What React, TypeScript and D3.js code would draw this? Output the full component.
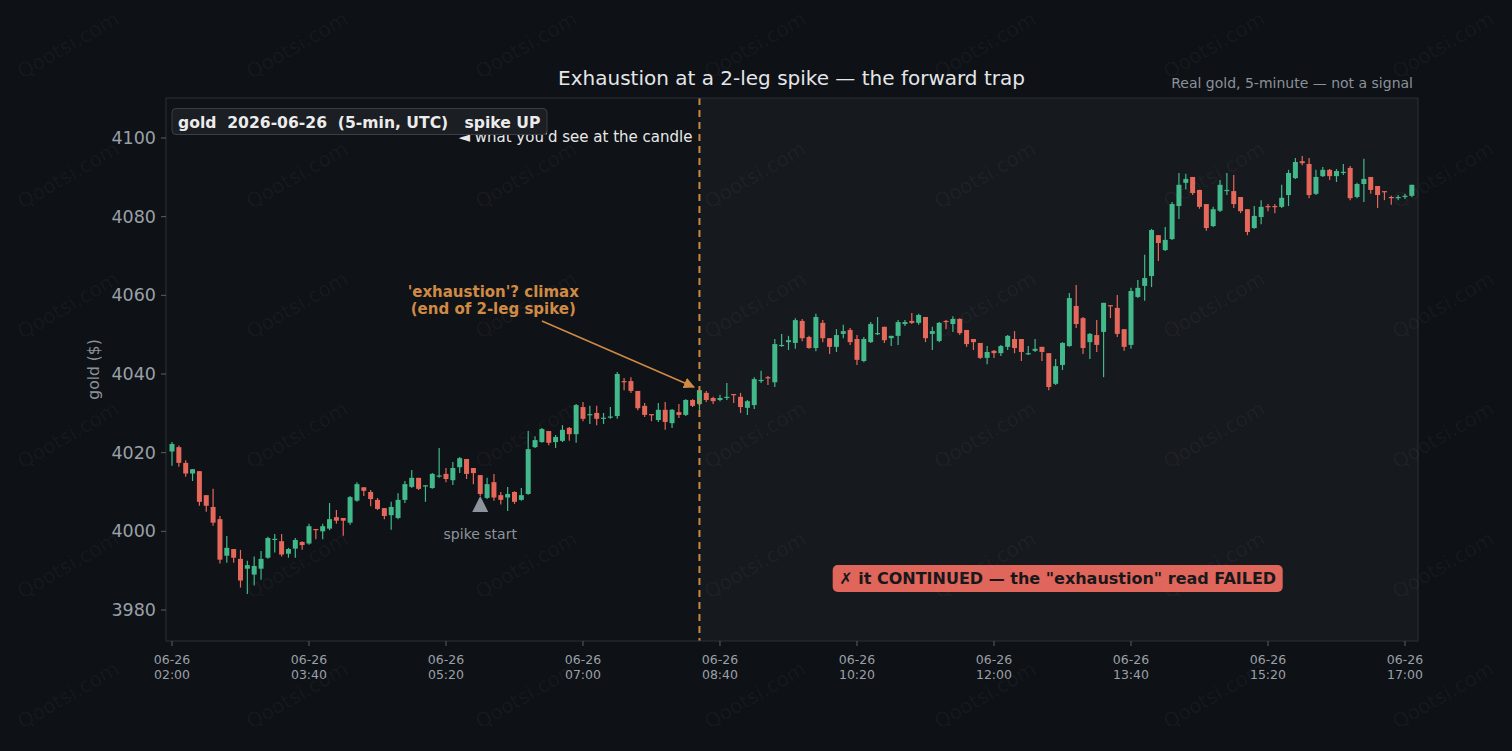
import React from 'react';
import * as d3 from 'd3';

// ---- data (5-minute gold candles, 2026-06-26 from 02:00 UTC) ----
const START_UTC = Date.UTC(2026, 5, 26, 2, 0, 0);
const STEP_MS = 5 * 60 * 1000;

const opens = [
  4020.3, 4021.4, 4017.4, 4014.7, 4015.3, 4009.2, 4006.2, 4003.1, 3993.8, 3995.5,
  3993.0, 3990.5, 3989.0, 3990.5, 3993.3, 3997.8, 3997.5, 3994.3, 3995.6, 3997.3,
  3996.9, 4000.6, 4000.0, 4000.7, 4003.6, 4003.4, 4002.2, 4007.8, 4011.2, 4010.0,
  4008.0, 4005.9, 4004.1, 4003.4, 4008.0, 4011.3, 4013.6, 4011.5, 4011.0, 4014.0,
  4014.6, 4013.0, 4016.3, 4018.4, 4016.1, 4014.3, 4008.5, 4012.5, 4009.2, 4008.6,
  4010.0, 4008.0, 4009.5, 4021.4, 4022.7, 4025.5, 4022.7, 4023.0, 4026.3, 4024.7,
  4031.6, 4029.6, 4030.1, 4028.6, 4029.0, 4029.3, 4038.2, 4038.2, 4035.7, 4031.9,
  4029.8, 4028.3, 4030.9, 4027.5, 4030.3, 4029.6, 4033.4, 4032.4, 4035.2, 4033.9,
  4033.4, 4034.0, 4034.9, 4034.2, 4031.4, 4032.1, 4038.2, 4039.2, 4037.9, 4047.1,
  4048.1, 4047.9, 4053.5, 4049.4, 4046.6, 4053.0, 4049.1, 4046.9, 4050.2, 4051.2,
  4048.9, 4043.3, 4048.1, 4050.2, 4052.0, 4049.1, 4049.7, 4052.7, 4053.5, 4053.0,
  4054.5, 4050.2, 4048.4, 4053.5, 4052.7, 4054.0, 4051.2, 4048.9, 4047.9, 4044.1,
  4045.9, 4045.3, 4046.9, 4048.9, 4048.9, 4045.1, 4045.9, 4046.9, 4045.3, 4037.5,
  4042.3, 4047.1, 4057.3, 4054.2, 4048.1, 4049.9, 4050.7, 4057.5, 4056.8, 4051.4,
  4047.4, 4059.6, 4062.4, 4064.9, 4075.3, 4071.5, 4074.3, 4082.7, 4088.6, 4090.1,
  4086.8, 4083.2, 4077.6, 4081.5, 4086.6, 4086.5, 4085.0, 4081.9, 4077.1, 4079.9,
  4082.7, 4082.7, 4082.5, 4085.5, 4089.8, 4094.1, 4093.4, 4085.8, 4090.3, 4091.9,
  4090.3, 4091.2, 4092.4, 4085.0, 4088.3, 4090.1, 4087.8, 4086.5, 4085.0, 4084.8,
  4085.1, 4085.3,
];
const highs = [
  4022.7, 4021.8, 4018.1, 4015.8, 4015.3, 4009.2, 4010.8, 4003.9, 3998.8, 3995.5,
  3995.3, 3992.5, 3993.6, 3995.0, 3998.6, 3999.3, 3999.3, 3995.8, 3998.3, 3997.5,
  4001.9, 4000.6, 4001.9, 4007.2, 4005.4, 4003.4, 4009.0, 4012.5, 4011.2, 4010.5,
  4008.5, 4005.9, 4007.5, 4009.7, 4012.8, 4015.6, 4013.6, 4011.7, 4014.8, 4021.2,
  4016.1, 4017.6, 4018.9, 4018.4, 4016.1, 4014.3, 4013.6, 4014.6, 4010.0, 4011.3,
  4010.2, 4011.0, 4025.5, 4024.2, 4026.3, 4025.5, 4024.5, 4027.0, 4026.5, 4032.4,
  4032.9, 4031.9, 4031.9, 4030.1, 4031.6, 4040.5, 4039.0, 4039.2, 4035.7, 4032.6,
  4029.8, 4032.6, 4032.9, 4031.1, 4032.4, 4033.6, 4033.6, 4036.2, 4035.7, 4034.2,
  4034.7, 4037.7, 4034.9, 4035.2, 4033.4, 4039.2, 4040.8, 4039.5, 4048.9, 4050.2,
  4049.7, 4054.2, 4054.0, 4049.7, 4055.3, 4053.7, 4049.1, 4051.4, 4052.5, 4051.7,
  4049.9, 4049.4, 4053.2, 4054.5, 4052.0, 4049.7, 4053.7, 4053.7, 4055.5, 4055.3,
  4054.5, 4052.0, 4053.2, 4053.7, 4054.7, 4054.2, 4051.2, 4048.9, 4047.9, 4047.1,
  4046.1, 4047.4, 4049.9, 4050.9, 4048.9, 4047.1, 4048.9, 4046.9, 4045.3, 4043.8,
  4048.1, 4060.6, 4062.6, 4054.5, 4050.4, 4053.7, 4058.1, 4057.5, 4060.1, 4051.4,
  4061.9, 4063.9, 4070.3, 4076.9, 4075.3, 4077.4, 4083.7, 4091.1, 4090.9, 4090.1,
  4086.8, 4083.2, 4082.5, 4089.3, 4091.1, 4090.6, 4085.0, 4081.9, 4082.7, 4084.2,
  4083.2, 4083.2, 4088.1, 4091.9, 4094.9, 4095.4, 4094.9, 4091.9, 4092.6, 4092.1,
  4092.1, 4093.4, 4092.9, 4088.6, 4094.7, 4090.1, 4087.8, 4086.5, 4085.3, 4085.5,
  4085.8, 4088.1,
];
const lows = [
  4016.7, 4016.4, 4013.9, 4012.8, 4006.5, 4005.0, 4001.4, 3991.8, 3992.0, 3992.0,
  3985.7, 3984.1, 3986.2, 3987.7, 3993.0, 3994.6, 3993.6, 3993.3, 3993.3, 3995.3,
  3996.6, 3998.0, 3998.0, 4000.3, 4001.9, 3998.9, 4001.7, 4007.5, 4009.0, 4006.4,
  4005.4, 4003.1, 4000.4, 4003.1, 4007.2, 4011.0, 4010.5, 4007.5, 4010.8, 4013.6,
  4012.5, 4011.8, 4014.8, 4013.3, 4012.0, 4009.0, 4008.2, 4007.8, 4006.8, 4005.2,
  4007.0, 4007.8, 4009.3, 4021.2, 4022.5, 4021.9, 4021.2, 4022.7, 4023.0, 4022.5,
  4028.0, 4027.3, 4027.0, 4027.3, 4028.6, 4028.6, 4035.9, 4035.2, 4030.8, 4029.1,
  4028.0, 4027.8, 4025.8, 4026.3, 4028.8, 4029.3, 4031.6, 4030.9, 4032.9, 4032.4,
  4033.1, 4033.4, 4032.6, 4030.1, 4029.6, 4031.1, 4037.7, 4037.2, 4036.7, 4046.9,
  4046.1, 4046.4, 4048.3, 4046.4, 4045.8, 4048.1, 4045.1, 4045.6, 4049.1, 4047.4,
  4042.3, 4043.0, 4047.9, 4049.9, 4047.9, 4047.1, 4047.4, 4052.2, 4052.7, 4052.5,
  4048.1, 4046.1, 4048.1, 4051.4, 4050.7, 4049.9, 4046.9, 4046.1, 4043.8, 4042.5,
  4044.1, 4044.6, 4046.1, 4045.3, 4043.3, 4044.8, 4045.6, 4043.3, 4035.9, 4037.2,
  4041.0, 4046.9, 4051.7, 4045.1, 4043.8, 4045.6, 4039.2, 4054.2, 4049.4, 4045.9,
  4046.4, 4059.3, 4058.6, 4062.1, 4068.7, 4071.3, 4074.1, 4079.4, 4087.0, 4085.5,
  4082.0, 4076.4, 4077.4, 4081.2, 4085.5, 4082.2, 4080.9, 4075.3, 4076.9, 4078.1,
  4081.4, 4080.9, 4082.2, 4082.7, 4089.6, 4093.1, 4084.7, 4085.5, 4090.1, 4089.3,
  4088.8, 4090.6, 4084.2, 4084.7, 4083.7, 4085.8, 4082.2, 4084.2, 4083.0, 4084.2,
  4084.5, 4085.0,
];
const closes = [
  4022.2, 4017.4, 4014.7, 4015.8, 4007.5, 4006.5, 4002.2, 3992.8, 3995.8, 3993.3,
  3987.5, 3991.4, 3991.2, 3993.0, 3998.3, 3998.1, 3994.1, 3995.5, 3997.8, 3996.5,
  4001.3, 4000.4, 4001.3, 4003.1, 4002.7, 4002.7, 4008.7, 4012.0, 4010.3, 4008.2,
  4005.7, 4003.9, 4006.2, 4008.0, 4012.0, 4013.6, 4010.8, 4011.7, 4014.6, 4014.2,
  4013.3, 4016.1, 4018.6, 4014.6, 4014.8, 4009.5, 4012.0, 4008.6, 4008.0, 4009.5,
  4007.5, 4009.2, 4020.9, 4023.2, 4026.0, 4022.5, 4024.0, 4025.8, 4024.7, 4032.1,
  4028.6, 4029.8, 4028.6, 4028.9, 4029.2, 4040.0, 4038.0, 4035.7, 4031.3, 4029.6,
  4029.6, 4030.9, 4027.8, 4030.9, 4029.6, 4033.4, 4031.9, 4035.9, 4033.4, 4033.1,
  4033.9, 4034.2, 4034.7, 4031.6, 4033.1, 4038.7, 4038.5, 4038.9, 4047.6, 4047.4,
  4048.6, 4053.7, 4049.1, 4046.6, 4054.5, 4049.1, 4046.9, 4049.9, 4050.9, 4048.1,
  4043.6, 4048.9, 4052.7, 4050.4, 4048.6, 4049.7, 4053.2, 4053.2, 4053.0, 4055.0,
  4049.1, 4050.9, 4053.0, 4053.2, 4054.0, 4050.4, 4047.6, 4048.1, 4044.1, 4045.6,
  4045.3, 4047.1, 4049.7, 4046.6, 4045.6, 4045.3, 4046.4, 4045.6, 4036.7, 4042.0,
  4047.9, 4059.3, 4052.7, 4046.6, 4050.2, 4047.4, 4058.1, 4057.3, 4050.2, 4046.9,
  4061.1, 4061.9, 4064.4, 4076.6, 4073.3, 4074.1, 4083.2, 4088.1, 4089.6, 4086.0,
  4082.5, 4077.1, 4081.9, 4088.1, 4086.8, 4083.2, 4081.4, 4076.1, 4080.2, 4082.5,
  4082.5, 4082.5, 4084.8, 4091.1, 4093.9, 4093.6, 4085.5, 4090.1, 4091.9, 4090.3,
  4091.6, 4091.4, 4084.7, 4088.3, 4089.6, 4086.8, 4085.5, 4086.3, 4084.8, 4085.0,
  4085.3, 4088.1,
];

const yTicks = [3980, 4000, 4020, 4040, 4060, 4080, 4100];
const xTickIndices = [0, 20, 40, 60, 80, 100, 120, 140, 160, 180];

const SIGNAL_IDX = 77;       // the "exhaustion" candle
const SPIKE_START_IDX = 45;  // spike start marker

const TITLE = 'Exhaustion at a 2-leg spike — the forward trap';
const SUBTITLE = 'Real gold, 5-minute — not a signal';
const LEGEND = 'gold  2026-06-26  (5-min, UTC)   spike UP';
const BADGE = '✗ it CONTINUED — the "exhaustion" read FAILED';

const FONT = '"DejaVu Sans", Verdana, sans-serif';
const UP = '#42b98a';
const DOWN = '#e5685b';
const ORANGE = '#cf8a45';

export default function App() {
  const W = 1512, H = 751;
  const L = 166, R = 1418, T = 98, B = 641;

  const x = d3.scaleLinear().domain([-0.876, 181.9]).range([L, R]);
  const y = d3.scaleLinear().domain([3972.12, 4110.17]).range([B, T]);

  const fmtDay = d3.utcFormat('%m-%d');
  const fmtHM = d3.utcFormat('%H:%M');
  const timeAt = (i: number) => new Date(START_UTC + i * STEP_MS);

  const bodyW = 5;
  const candles = opens.map((o, i) => ({ i, o, h: highs[i], l: lows[i], c: closes[i] }));

  const sigX = x(SIGNAL_IDX);

  // watermark grid
  const wmX = [68, 297, 526, 755, 985, 1214, 1443];
  const wmY = [45, 175, 305, 435, 565, 695];

  // annotation geometry (data coordinates)
  const annoX = x(46.9);
  const arrowFrom: [number, number] = [x(54.0), y(4053.5)];
  const arrowTo: [number, number] = [x(76.2), y(4036.7)];

  const spikeX = x(SPIKE_START_IDX);
  const spikeY = y(lows[SPIKE_START_IDX]) + 8;

  const badgeCx = x(129.3);
  const badgeCy = y(3988.0);

  return (
    <svg
      width={W}
      height={H}
      style={{ position: 'absolute', left: 0, top: 0, display: 'block' }}
      fontFamily={FONT}
    >
      <defs>
        <marker id="arr" viewBox="0 0 10 10" refX="9" refY="5" markerWidth="7" markerHeight="7" orient="auto-start-reverse">
          <path d="M0,0 L10,5 L0,10 z" fill={ORANGE} />
        </marker>
      </defs>
      <rect x={0} y={0} width={W} height={H} fill="#0e1115" />
      {/* plot area */}
      <rect x={L} y={T} width={R - L} height={B - T} fill="#0f1216" />
      <rect x={sigX} y={T} width={R - sigX} height={B - T} fill="#16191e" />

      {/* candles */}
      <g>
        {candles.map((d) => {
          const up = d.c >= d.o;
          const col = up ? UP : DOWN;
          const cx = x(d.i);
          const yTop = y(Math.max(d.o, d.c));
          const yBot = y(Math.min(d.o, d.c));
          return (
            <g key={d.i}>
              <line x1={cx} x2={cx} y1={y(d.h)} y2={y(d.l)} stroke={col} strokeWidth={1.2} />
              <rect x={cx - bodyW / 2} y={yTop} width={bodyW} height={Math.max(1.2, yBot - yTop)} fill={col} />
            </g>
          );
        })}
      </g>

      {/* signal dashed line */}
      <line x1={sigX} x2={sigX} y1={T} y2={B} stroke="#c98a40" strokeWidth={2} strokeDasharray="7,5" />

      {/* plot border */}
      <rect x={L} y={T} width={R - L} height={B - T} fill="none" stroke="#2c3037" strokeWidth={1} />

      {/* y axis */}
      <g>
        {yTicks.map((t) => (
          <g key={t}>
            <line x1={L - 5} x2={L} y1={y(t)} y2={y(t)} stroke="#5a6068" />
            <text x={L - 10} y={y(t)} dy="0.35em" textAnchor="end" fontSize={17.5} fill="#9aa0a8">{t}</text>
          </g>
        ))}
        <text transform={`translate(99,${(T + B) / 2}) rotate(-90)`} textAnchor="middle" fontSize={15.5} fill="#8b919a">gold ($)</text>
      </g>

      {/* x axis */}
      <g>
        {xTickIndices.map((i) => (
          <g key={i}>
            <line x1={x(i)} x2={x(i)} y1={B} y2={B + 5} stroke="#5a6068" />
            <text x={x(i)} y={B + 23} textAnchor="middle" fontSize={12.5} fill="#9aa0a8">{fmtDay(timeAt(i))}</text>
            <text x={x(i)} y={B + 38} textAnchor="middle" fontSize={12.5} fill="#9aa0a8">{fmtHM(timeAt(i))}</text>
          </g>
        ))}
      </g>

      {/* titles */}
      <text x={791.5} y={85} textAnchor="middle" fontSize={20} fill="#e4e6ea">{TITLE}</text>
      <text x={R - 5} y={88} textAnchor="end" fontSize={14} fill="#8b919a">{SUBTITLE}</text>

      {/* what you'd see text (behind legend) */}
      <text x={sigX - 7} y={142} textAnchor="end" fontSize={15} fill="#e8e8e8">◄ what you'd see at the candle</text>

      {/* legend */}
      <rect x={172} y={108.5} width={375} height={26} rx={4} fill="#1b1e23" stroke="#3a3f47" />
      <text x={178} y={127.5} fontSize={15.6} fontWeight="bold" fill="#ececec" style={{ whiteSpace: 'pre' }}>{LEGEND}</text>

      {/* exhaustion annotation */}
      <text x={annoX} y={297} textAnchor="middle" fontSize={15} fontWeight="bold" fill={ORANGE}>'exhaustion'? climax</text>
      <text x={annoX} y={314} textAnchor="middle" fontSize={15} fontWeight="bold" fill={ORANGE}>(end of 2-leg spike)</text>
      <line x1={arrowFrom[0]} y1={arrowFrom[1]} x2={arrowTo[0]} y2={arrowTo[1]} stroke={ORANGE} strokeWidth={1.6} markerEnd="url(#arr)" />

      {/* spike start marker */}
      <path d={`M${spikeX},${spikeY - 8} L${spikeX + 8},${spikeY + 8} L${spikeX - 8},${spikeY + 8} Z`} fill="#8e949d" />
      <text x={spikeX} y={539} textAnchor="middle" fontSize={14} fill="#8e949d">spike start</text>

      {/* failed badge */}
      <rect x={badgeCx - 225} y={badgeCy - 13.5} width={450} height={27} rx={5} fill="#e0655a" />
      <text x={badgeCx} y={badgeCy} dy="0.36em" textAnchor="middle" fontSize={16} fontWeight="bold" fill="#16181b">{BADGE}</text>

      {/* watermark */}
      <g pointerEvents="none">
        {wmY.map((wy) =>
          wmX.map((wx) => (
            <text key={`${wx}-${wy}`} transform={`translate(${wx},${wy}) rotate(-30)`} textAnchor="middle" dy="0.35em" fontSize={20} fill="#ffffff" fillOpacity={0.045}>Qootsi.com</text>
          ))
        )}
      </g>
    </svg>
  );
}
